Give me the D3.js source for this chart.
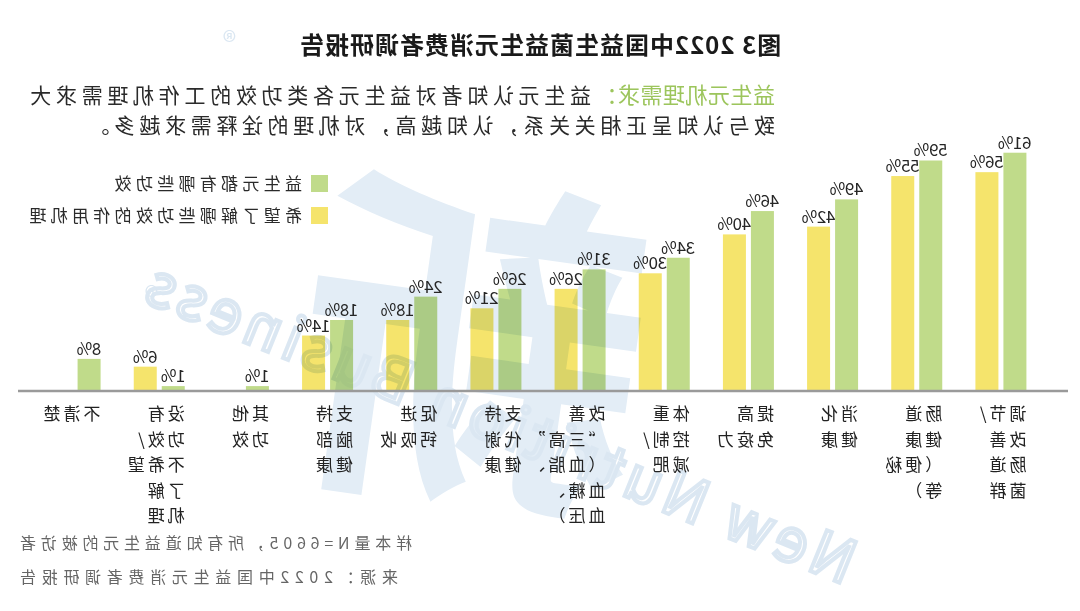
<!DOCTYPE html>
<html>
<head>
<meta charset="utf-8">
<script src="https://cdn.jsdelivr.net/npm/d3@7"></script>
<style>
  html, body { margin: 0; padding: 0; background: #fff; }
  svg { display: block; }
  text { font-family: "Noto Sans CJK SC", "Noto Sans", sans-serif; }
</style>
</head>
<body>
<div class="container-chart"></div>
<script>
// ---- data ----
const categories = ["调节/改善肠道菌群", "肠道健康(便秘等)", "消化健康", "提高免疫力", "体重控制/减肥",
    "改善三高", "支持代谢健康", "促进钙吸收", "支持脑部健康", "其他功效", "没有功效/不希望了解机理", "不清楚"];
const categoryLines = [
    ["调节/", "改善", "肠道", "菌群"],
    ["肠道", "健康", "（便秘", "等）"],
    ["消化", "健康"],
    ["提高", "免疫力"],
    ["体重", "控制/", "减肥"],
    ["改善", "“三高”", "（血脂、", "血糖、", "血压）"],
    ["支持", "代谢", "健康"],
    ["促进", "钙吸收"],
    ["支持", "脑部", "健康"],
    ["其他", "功效"],
    ["没有", "功效/", "不希望", "了解", "机理"],
    ["不清楚"]
];
const knowValues = [61, 59, 49, 46, 34, 31, 26, 24, 18, 1, 1, 8];           // 益生元都有哪些功效
const wantValues = [56, 55, 42, 40, 30, 26, 21, 18, 14, null, 6, null];     // 希望了解哪些功效的作用机理
const seriesNames = ["益生元都有哪些功效", "希望了解哪些功效的作用机理"];

const titleText = "图3 2022中国益生菌益生元消费者调研报告";
const leadText = "益生元机理需求：";
const noteLine1 = "益生元认知者对益生元各类功效的工作机理需求大";
const noteLine2 = "致与认知呈正相关关系，认知越高，对机理的诠释需求越多。";
const footLines = ["样本量N=6605，所有知道益生元的被访者", "来源：2022中国益生元消费者调研报告"];

const GREEN = "#c0db8a", YELLOW = "#f5e46c";

const W = 1080, H = 611;

const svgRoot = d3.select(".container-chart").append("svg")
    .attr("width", W).attr("height", H);

// the reference picture is a mirror image, so the whole drawing is flipped
const svg = svgRoot.append("g")
    .attr("transform", `translate(${W},0) scale(-1,1)`);

const x = d3.scaleBand().domain(categories).range([37, 1047]).paddingInner(0).paddingOuter(0);
const y = d3.scaleLinear().domain([0, 100]).range([390, 1]);

const rows = categories.map((c, i) => ({ cat: c, lines: categoryLines[i], know: knowValues[i], want: wantValues[i] }));

// inner band for the two series
const pairW = 51;
const inner = d3.scaleBand().domain(["know", "want"])
    .range([(x.bandwidth() - pairW) / 2, (x.bandwidth() + pairW) / 2])
    .paddingInner(5 / 28).paddingOuter(0);

// watermark, drawn under everything but blended so it tints the bars a bit
const wm = svg.append("g");
wm.append("text")
    .attr("transform", "translate(625,478) rotate(-8)")
    .attr("text-anchor", "middle")
    .attr("font-size", 350).attr("font-weight", 700)
    .attr("fill", "#e3edf6")
    .text("新");
wm.append("text")
    .attr("transform", "translate(235,585) rotate(-22)")
    .attr("font-family", "'Liberation Sans', Arial, sans-serif")
    .attr("font-size", 60).attr("letter-spacing", 5)
    .attr("fill", "none").attr("stroke", "#dbe7f2").attr("stroke-width", 4)
    .text("New Nutrition Business");
wm.append("text")
    .attr("x", 844).attr("y", 52)
    .attr("font-size", 28).attr("fill", "#dbe7f2")
    .text("®");
wm.append("text")
    .attr("x", 922).attr("y", 307)
    .attr("font-size", 28).attr("fill", "#dbe7f2")
    .text("®");

// title
svg.append("text")
    .attr("x", 540).attr("y", 54)
    .attr("text-anchor", "middle")
    .attr("font-size", 24).attr("font-weight", 700)
    .attr("letter-spacing", 1)
    .attr("fill", "#1a1a1a")
    .text(titleText);

// intro
const t1 = svg.append("text").attr("x", 305).attr("y", 103);
t1.append("tspan").attr("font-size", 22).attr("fill", "#9cc55c").attr("letter-spacing", 0.5).text(leadText);
t1.append("tspan").attr("font-size", 21).attr("fill", "#2a2a2a").attr("letter-spacing", 4.7).attr("dx", 4).text(noteLine1);
svg.append("text").attr("x", 305).attr("y", 133)
    .attr("font-size", 21).attr("fill", "#2a2a2a").attr("letter-spacing", 4.6)
    .text(noteLine2);

// legend
const legend = svg.append("g").selectAll("g")
    .data(seriesNames)
    .join("g")
    .attr("transform", (d, i) => `translate(752, ${175 + i * 32})`);
legend.append("rect").attr("width", 17).attr("height", 17)
    .attr("fill", (d, i) => i === 0 ? GREEN : YELLOW);
legend.append("text").attr("x", 26).attr("y", 15)
    .attr("font-size", 17).attr("letter-spacing", 4.3).attr("fill", "#2a2a2a")
    .text(d => d);

// bars
const groups = svg.append("g").selectAll("g")
    .data(rows)
    .join("g")
    .attr("transform", d => `translate(${x(d.cat)},0)`);

const bars = groups.selectAll("g.bar")
    .data(d => [["know", d.know], ["want", d.want]].filter(p => p[1] !== null))
    .join("g").attr("class", "bar");

bars.append("rect")
    .attr("x", d => inner(d[0]))
    .attr("width", inner.bandwidth())
    .attr("y", d => y(d[1]))
    .attr("height", d => y(0) - y(d[1]))
    .attr("fill", d => d[0] === "know" ? GREEN : YELLOW)
    .style("mix-blend-mode", "multiply");

bars.append("text")
    .attr("x", d => inner(d[0]) + inner.bandwidth() / 2)
    .attr("y", d => y(d[1]) - 4)
    .attr("text-anchor", "middle")
    .attr("font-family", "'Liberation Sans', Arial, sans-serif")
    .attr("font-size", 17).attr("letter-spacing", -0.4).attr("fill", "#262626")
    .text(d => d[1] + "%");

// baseline
svg.append("line")
    .attr("x1", 12).attr("x2", 1062)
    .attr("y1", y(0) + 1).attr("y2", y(0) + 1)
    .attr("stroke", "#9a9a9a").attr("stroke-width", 2.5);

// category labels
groups.append("text")
    .attr("font-size", 17).attr("letter-spacing", 3).attr("fill", "#222")
    .selectAll("tspan")
    .data(d => d.lines)
    .join("tspan")
    .attr("x", (x.bandwidth() - pairW) / 2)
    .attr("y", (d, i) => 420 + i * 25.5)
    .text(d => d);

// footnotes
const footWidths = [392, 378];
svg.append("g").selectAll("text")
    .data(footLines)
    .join("text")
    .attr("x", (d, i) => 1060 - footWidths[i]).attr("y", (d, i) => 549 + i * 34)
    .attr("textLength", (d, i) => footWidths[i]).attr("lengthAdjust", "spacing")
    .attr("font-size", 16).attr("fill", "#666")
    .text(d => d);
</script>
</body>
</html>
